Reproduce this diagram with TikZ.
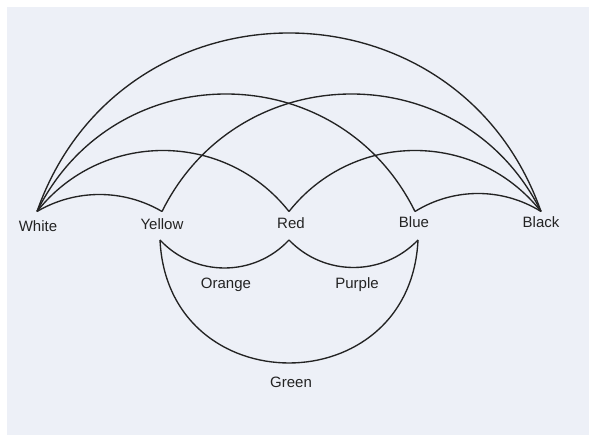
\documentclass[tikz,border=0pt]{standalone}
\usepackage{fontspec}
\setmainfont{Liberation Sans}
\definecolor{paper}{RGB}{237,240,247}
\definecolor{ink}{RGB}{35,35,35}
\tikzset{
  arcline/.style={draw=ink,line width=1.35pt,line join=round},
  lbl/.style={text=ink,font=\fontsize{15}{18}\selectfont,anchor=base,inner sep=0pt}
}
\newcommand\bowarc[4]{%
  \pgfmathsetmacro\bowth{2*atan(#4/#3)}%
  \pgfmathsetmacro\bowd{4/3*#4/sin(\bowth)}%
  \draw[arcline] (#1) .. controls +(\bowth:\bowd pt) and +(180-\bowth:\bowd pt) .. (#2);}
\begin{document}
\begin{tikzpicture}[x=1pt,y=1pt]
\useasboundingbox (0,0) rectangle (589,435);
\fill[white] (0,0) rectangle (589,435);
\fill[paper] (7,0) rectangle (589,428);
% apex points
\coordinate (W) at (37,223.5);
\coordinate (Y) at (162,223.5);
\coordinate (R) at (289,223.5);
\coordinate (B) at (415,223.5);
\coordinate (K) at (541,223.5);
\coordinate (Yb) at (160,195);
\coordinate (Rb) at (289,195);
\coordinate (Bb) at (418,195);
% upper arcs
\bowarc{W}{Y}{62.5}{17}
\bowarc{B}{K}{63}{18}
\bowarc{W}{R}{126}{61}
\bowarc{R}{K}{126}{61}
\bowarc{W}{B}{189}{117.5}
\bowarc{Y}{K}{189.5}{117.5}
\bowarc{W}{K}{252}{178.5}
% lower arcs
\bowarc{Yb}{Rb}{64.5}{-28}
\bowarc{Rb}{Bb}{64.5}{-27.5}
\bowarc{Yb}{Bb}{129}{-123}
% labels
\node[lbl] (tW) at (38,203.6) {White};
\node[lbl] (tY) at (162,205) {Yellow};
\node[lbl] (tR) at (291,206.7) {Red};
\node[lbl] (tB) at (414,207.7) {Blue};
\node[lbl] (tK) at (541,207.7) {Black};
\node[lbl] (tO) at (226,146) {Orange};
\node[lbl] (tP) at (357,146) {Purple};
\node[lbl] (tG) at (291,47.7) {Green};
\end{tikzpicture}
\end{document}
